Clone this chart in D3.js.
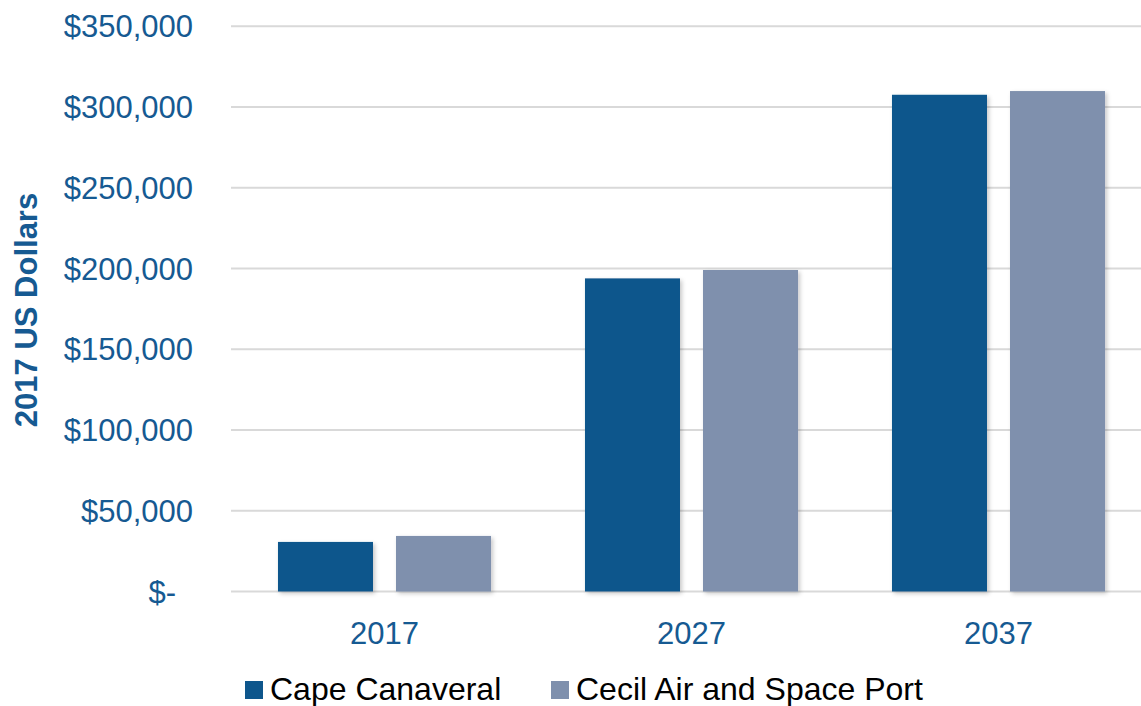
<!DOCTYPE html>
<html>
<head>
<meta charset="utf-8">
<script src="https://cdn.jsdelivr.net/npm/d3@7"></script>
<style>
  html, body { margin: 0; padding: 0; background: #ffffff; }
  svg { display: block; }
</style>
</head>
<body>
<div id="chart"></div>
<script>
// grouped bar chart: cost in 2017 US dollars by year and spaceport

const years = ["2017", "2027", "2037"];
const seriesNames = ["Cape Canaveral", "Cecil Air and Space Port"];
const capeCanaveral = [30700, 193900, 307600];
const cecilSpacePort = [34400, 199100, 309900];
const yTicks = [0, 50000, 100000, 150000, 200000, 250000, 300000, 350000];

const colors = ["#0e568c", "#7f90ad"];
const textBlue = "#165a92";

const width = 1141, height = 706;

const svg = d3.select("#chart").append("svg")
  .attr("width", width)
  .attr("height", height)
  .style("font-family", "'Liberation Sans', Arial, sans-serif");

// soft shadow under the bars
const defs = svg.append("defs");
const shadow = defs.append("filter")
  .attr("id", "barShadow")
  .attr("x", "-10%").attr("y", "-10%")
  .attr("width", "130%").attr("height", "130%");
shadow.append("feDropShadow")
  .attr("dx", 2).attr("dy", 2)
  .attr("stdDeviation", 2)
  .attr("flood-color", "#000")
  .attr("flood-opacity", 0.22);

// scales
const x0 = d3.scaleBand()
  .domain(years)
  .range([231, 1152])
  .paddingInner(0)
  .paddingOuter(0);

const x1 = d3.scaleBand()
  .domain(seriesNames)
  .range([0, x0.bandwidth()])
  .paddingInner(0.195)
  .paddingOuter(0.398);

const y = d3.scaleLinear()
  .domain([0, 350000])
  .range([591.5, 26.3]);

// gridlines
svg.append("g")
  .selectAll("line")
  .data(yTicks)
  .enter()
  .append("line")
  .attr("x1", 231)
  .attr("x2", width)
  .attr("y1", d => y(d))
  .attr("y2", d => y(d))
  .attr("stroke", "#d9d9d9")
  .attr("stroke-width", 2);

// y tick labels (accounting style: "$-" sits a little left)
const fmt = d3.format(",");
svg.append("g")
  .selectAll("text")
  .data(yTicks)
  .enter()
  .append("text")
  .attr("x", d => d === 0 ? 176 : 193)
  .attr("y", d => y(d))
  .attr("dy", "0.36em")
  .attr("text-anchor", "end")
  .style("font-size", "31px")
  .style("fill", textBlue)
  .text(d => d === 0 ? "$-" : "$" + fmt(d));

// y axis title
svg.append("text")
  .attr("transform", "translate(37," + 310 + ") rotate(-90)")
  .attr("text-anchor", "middle")
  .style("font-size", "31px")
  .style("font-weight", "bold")
  .style("fill", textBlue)
  .text("2017 US Dollars");

// bars
const rows = years.map((yr, i) => ({
  year: yr,
  values: [
    { name: seriesNames[0], value: capeCanaveral[i] },
    { name: seriesNames[1], value: cecilSpacePort[i] }
  ]
}));

const groups = svg.append("g")
  .selectAll("g")
  .data(rows)
  .enter()
  .append("g")
  .attr("transform", d => "translate(" + x0(d.year) + ",0)");

groups.selectAll("rect")
  .data(d => d.values)
  .enter()
  .append("rect")
  .attr("x", d => x1(d.name))
  .attr("y", d => y(d.value))
  .attr("width", x1.bandwidth())
  .attr("height", d => y(0) - y(d.value))
  .attr("fill", (d, i) => colors[i])
  .attr("filter", "url(#barShadow)");

// category labels
svg.append("g")
  .selectAll("text")
  .data(years)
  .enter()
  .append("text")
  .attr("x", d => x0(d) + x0.bandwidth() / 2)
  .attr("y", 644)
  .attr("text-anchor", "middle")
  .style("font-size", "31px")
  .style("fill", textBlue)
  .text(d => d);

// legend
const legendX = [245, 551];
const legend = svg.append("g")
  .selectAll("g")
  .data(seriesNames)
  .enter()
  .append("g")
  .attr("transform", (d, i) => "translate(" + legendX[i] + ",681)");

legend.append("rect")
  .attr("width", 18)
  .attr("height", 18)
  .attr("fill", (d, i) => colors[i]);

legend.append("text")
  .attr("x", 25)
  .attr("y", 19)
  .style("font-size", "32px")
  .style("fill", "#000")
  .text(d => d);
</script>
</body>
</html>
